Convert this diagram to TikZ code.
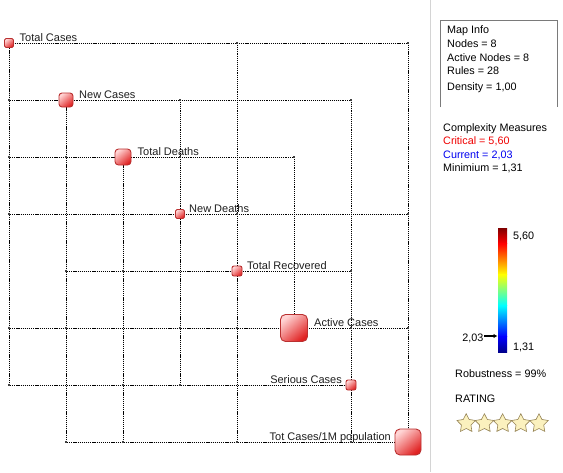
\documentclass[tikz,border=0pt]{standalone}
\usepackage{fontspec}
\setmainfont{Liberation Sans}
\usetikzlibrary{shapes.geometric,backgrounds,arrows.meta}
\definecolor{nodelight}{HTML}{FFD4D4}
\definecolor{nodedark}{HTML}{E02222}
\definecolor{nodeborder}{HTML}{BA3030}
\definecolor{bendgray}{HTML}{404040}
\definecolor{boxgray}{HTML}{7A7A7A}
\definecolor{sepgray}{HTML}{D4D4D4}
\definecolor{starfill}{HTML}{FBF1BE}
\definecolor{stardraw}{HTML}{968456}
\definecolor{critred}{HTML}{F00000}
\definecolor{curblue}{HTML}{0000F0}
\definecolor{labeltext}{HTML}{1E1E1E}
\definecolor{jetA}{rgb}{0.5,0,0}
\definecolor{jetB}{rgb}{1,0,0}
\definecolor{jetC}{rgb}{1,1,0}
\definecolor{jetD}{rgb}{0,1,1}
\definecolor{jetE}{rgb}{0,0,1}
\definecolor{jetF}{rgb}{0,0,0.55}
\begin{document}
\begin{tikzpicture}[x=1pt,y=-1pt,
  fnode/.style n args={2}{draw=nodeborder, line width=0.9pt, rectangle,
    minimum size=#1, rounded corners=#2, inner sep=0pt,
    top color=nodelight, bottom color=nodedark, shading angle=40},
  lbl/.style={font=\fontsize{11}{13}\selectfont, inner sep=0pt, text=labeltext},
  edge/.style={line width=1pt, dash pattern=on 1.05pt off 0.85pt, black},
  bendmark/.style={rectangle, fill=bendgray, minimum size=2.8pt, inner sep=0pt},
  panel/.style={font=\fontsize{10.8}{13}\selectfont, inner sep=0pt, anchor=base west},
  ratestar/.style={star, star points=5, star point ratio=1.95, minimum size=19.5pt,
    inner sep=0pt, fill=starfill, draw=stardraw, line width=0.6pt}
]
\useasboundingbox (0,0) rectangle (563,472);

% ---- FCM nodes on the diagonal
\node[fnode={9pt}{1.5pt}]  (n1) at (9,43)   {};
\node[fnode={14pt}{3pt}]   (n2) at (66,100) {};
\node[fnode={16pt}{3.5pt}] (n3) at (123,157) {};
\node[fnode={9pt}{1.5pt}]  (n4) at (180,214) {};
\node[fnode={10pt}{2pt}]   (n5) at (237,271) {};
\node[fnode={27pt}{5pt}]   (n6) at (294,328) {};
\node[fnode={10pt}{2pt}]   (n7) at (351,385) {};
\node[fnode={26pt}{5pt}]   (n8) at (408,442) {};

% ---- connectors (row of source, then column of target)
\begin{pgfonlayer}{background}
\fill[white] (0,0) rectangle (563,472);
\foreach \i/\j in {1/5,1/8, 2/1,2/4,2/7, 3/1,3/2,3/4,3/6, 4/1,4/5,4/8,
                   5/2,5/3,5/7, 6/1,6/2,6/4,6/5,6/7,6/8, 7/1,7/3,7/4,
                   8/2,8/3,8/5,8/7}{
  \draw[edge] (n\i.center) -| (n\j.center);
}
\end{pgfonlayer}
\foreach \i/\j in {1/5,1/8, 2/1,2/4,2/7, 3/1,3/2,3/4,3/6, 4/1,4/5,4/8,
                   5/2,5/3,5/7, 6/1,6/2,6/4,6/5,6/7,6/8, 7/1,7/3,7/4,
                   8/2,8/3,8/5,8/7}{
  \node[bendmark] (m\i\j) at (n\j |- n\i) {};
}

% ---- node labels
\node[lbl, anchor=base west] (t1) at ([xshift=10.5pt,yshift=2pt]n1.center) {Total Cases};
\node[lbl, anchor=base west] (t2) at ([xshift=13pt,yshift=2pt]n2.center) {New Cases};
\node[lbl, anchor=base west] (t3) at ([xshift=14.5pt,yshift=2pt]n3.center) {Total Deaths};
\node[lbl, anchor=base west] (t4) at ([xshift=9pt,yshift=2pt]n4.center) {New Deaths};
\node[lbl, anchor=base west] (t5) at ([xshift=10pt,yshift=2pt]n5.center) {Total Recovered};
\node[lbl, anchor=base west] (t6) at ([xshift=20pt,yshift=2pt]n6.center) {Active Cases};
\node[lbl, anchor=base east] (t7) at ([xshift=-9pt,yshift=2pt]n7.center) {Serious Cases};
\node[lbl, anchor=base east] (t8) at ([xshift=-17pt,yshift=2pt]n8.center) {Tot Cases/1M population};

% ---- right panel
\draw[sepgray, line width=1pt] (430.5,0) -- (430.5,472);
\draw[boxgray, line width=0.8pt] (440.5,107) -- (440.5,20.5) -- (557.5,20.5) -- (557.5,107);
\node[panel] (p1) at (447,33)   {Map Info};
\node[panel] (p2) at (447,47)   {Nodes = 8};
\node[panel] (p3) at (447,61)   {Active Nodes = 8};
\node[panel] (p4) at (447,74.5) {Rules = 28};
\node[panel] (p5) at (447,90)   {Density = 1,00};

\node[panel] (c1) at (443,131)   {Complexity Measures};
\node[panel, text=critred] (c2) at (443,144.5) {Critical = 5,60};
\node[panel, text=curblue] (c3) at (443,158)   {Current = 2,03};
\node[panel] (c4) at (443,171.5) {Minimium = 1,31};

% colour bar
\shade[top color=jetA, bottom color=jetB] (498,228) rectangle (507,243.6);
\shade[top color=jetB, bottom color=jetC] (498,243.5) rectangle (507,274.6);
\shade[top color=jetC, bottom color=jetD] (498,274.5) rectangle (507,305.6);
\shade[top color=jetD, bottom color=jetE] (498,305.5) rectangle (507,336.6);
\shade[top color=jetE, bottom color=jetF] (498,336.5) rectangle (507,352);
\coordinate (barcur) at (497.5,336);
\node[panel] (b1) at (513,239) {5,60};
\node[panel] (b2) at (513,350) {1,31};
\node[panel, anchor=base east] (b3) at (483.5,341) {2,03};
\draw[line width=1.3pt, -{Latex[length=4pt,width=4.5pt]}] (b3.east |- barcur) ++(0.5,0) -- (barcur);

\node[panel] (r1) at (455,377) {Robustness = 99\%};
\node[panel] (r2) at (455,402) {RATING};
\foreach \k/\x in {1/466.2,2/484.4,3/502.6,4/520.8,5/539}{
  \node[ratestar] (s\k) at (\x,423.5) {};
}
\end{tikzpicture}
\end{document}
